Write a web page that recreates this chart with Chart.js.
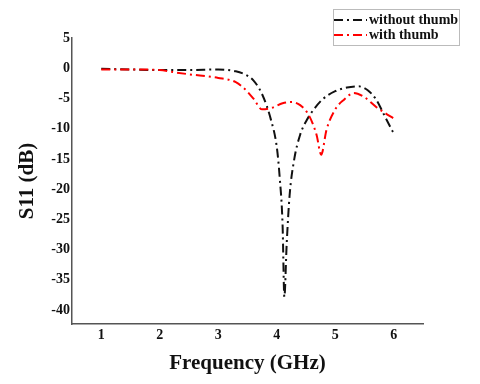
<!DOCTYPE html>
<html>
<head>
<meta charset="utf-8">
<script src="https://cdn.jsdelivr.net/npm/chart.js@4.4.1/dist/chart.umd.min.js"></script>
<style>
  html, body { margin: 0; padding: 0; background: #fff; }
  #wrap { position: relative; width: 480px; height: 384px; }
  #legend {
    position: absolute; left: 333px; top: 9px; width: 127px; height: 37px;
    border: 1px solid #bbb; box-sizing: border-box; padding-top: 2px;
    font: bold 14px "Liberation Serif", serif; color: #111;
  }
  .row { display: flex; align-items: center; height: 15px; white-space: nowrap; }
  .row svg { margin-right: 2px; }
</style>
</head>
<body>
<div id="wrap">
  <canvas id="s11" width="480" height="384"></canvas>
  <div id="legend"></div>
</div>
<script>
// without thumb
const freqNo = [1, 1.5, 2, 2.5, 3, 3.3, 3.45, 3.6, 3.75, 3.9, 4.0, 4.05, 4.1, 4.13, 4.17, 4.22, 4.3, 4.4, 4.5, 4.65, 4.8, 5.0, 5.2, 5.4, 5.55, 5.7, 5.85, 6.0]
const s11No = [-0.1, -0.2, -0.3, -0.3, -0.2, -0.5, -1.0, -2.0, -4.3, -8.5, -13, -18, -26, -37.8, -29, -21, -15, -11, -8.8, -6.6, -5, -3.8, -3.2, -3.0, -3.6, -5.2, -8, -10.8]

// with thumb
const freqWith = [1, 1.5, 2, 2.2, 2.5, 3.0, 3.3, 3.45, 3.6, 3.75, 3.9, 4.1, 4.25, 4.4, 4.55, 4.68, 4.76, 4.85, 5.0, 5.15, 5.32, 5.5, 5.7, 5.85, 6.0]
const s11With = [-0.2, -0.2, -0.3, -0.6, -1.0, -1.6, -2.3, -3.4, -5.0, -6.8, -6.6, -5.8, -5.6, -6.1, -7.8, -11, -14.3, -10.2, -6.8, -5.2, -4.1, -4.8, -6.4, -7.4, -8.3]

const xTicks = [1, 2, 3, 4, 5, 6]
const yTicks = [5, 0, -5, -10, -15, -20, -25, -30, -35, -40]

const dash = [9, 4, 2, 4]
const serif = "'Liberation Serif', 'Times New Roman', serif"

function toPoints(xs, ys) {
  return xs.map((x, i) => ({ x: x, y: ys[i] }))
}

const datasets = [
  {
    label: "without thumb",
    data: toPoints(freqNo, s11No),
    borderColor: "#111",
    order: 1,
  },
  {
    label: "with thumb",
    data: toPoints(freqWith, s11With),
    borderColor: "#f00",
    order: 0,
  },
]

datasets.forEach((d) => {
  d.borderWidth = 2
  d.borderDash = dash
  d.pointRadius = 0
  d.fill = false
  d.cubicInterpolationMode = "monotone"
})

new Chart(document.getElementById("s11"), {
  type: "line",
  data: { datasets: datasets },
  options: {
    responsive: false,
    animation: false,
    layout: { padding: { left: 0, top: 38, right: 57, bottom: 0 } },
    plugins: { legend: { display: false }, tooltip: { enabled: false } },
    scales: {
      x: {
        type: "linear",
        min: 0.5,
        max: 6.5,
        afterBuildTicks: (axis) => { axis.ticks = xTicks.map((v) => ({ value: v })) },
        afterFit: (axis) => { axis.height = 60 },
        grid: { display: false, drawTicks: false },
        border: { display: true, color: "#555", width: 1.5 },
        ticks: { color: "#111", padding: 3, font: { family: serif, size: 14, weight: "bold" } },
        title: {
          display: true,
          text: "Frequency (GHz)",
          color: "#111",
          padding: { top: 0, bottom: 8 },
          font: { family: serif, size: 21, weight: "bold" },
        },
      },
      y: {
        min: -42.3,
        max: 5,
        afterBuildTicks: (axis) => { axis.ticks = yTicks.map((v) => ({ value: v })) },
        afterFit: (axis) => { axis.width = 72 },
        grid: { display: false, drawTicks: false },
        border: { display: true, color: "#555", width: 1.5 },
        ticks: { color: "#111", padding: 2, font: { family: serif, size: 14, weight: "bold" } },
        title: {
          display: true,
          text: "S11 (dB)",
          color: "#111",
          padding: { top: 15, bottom: 0 },
          font: { family: serif, size: 21, weight: "bold" },
        },
      },
    },
  },
})

// legend box drawn as html
const legend = document.getElementById("legend")
datasets.forEach((d) => {
  const row = document.createElement("div")
  row.className = "row"
  row.innerHTML =
    '<svg width="33" height="4"><line x1="0" y1="2" x2="33" y2="2" stroke="' + d.borderColor +
    '" stroke-width="2" stroke-dasharray="' + dash.join(",") + '"/></svg><span>' + d.label + "</span>"
  legend.appendChild(row)
})
</script>
</body>
</html>
